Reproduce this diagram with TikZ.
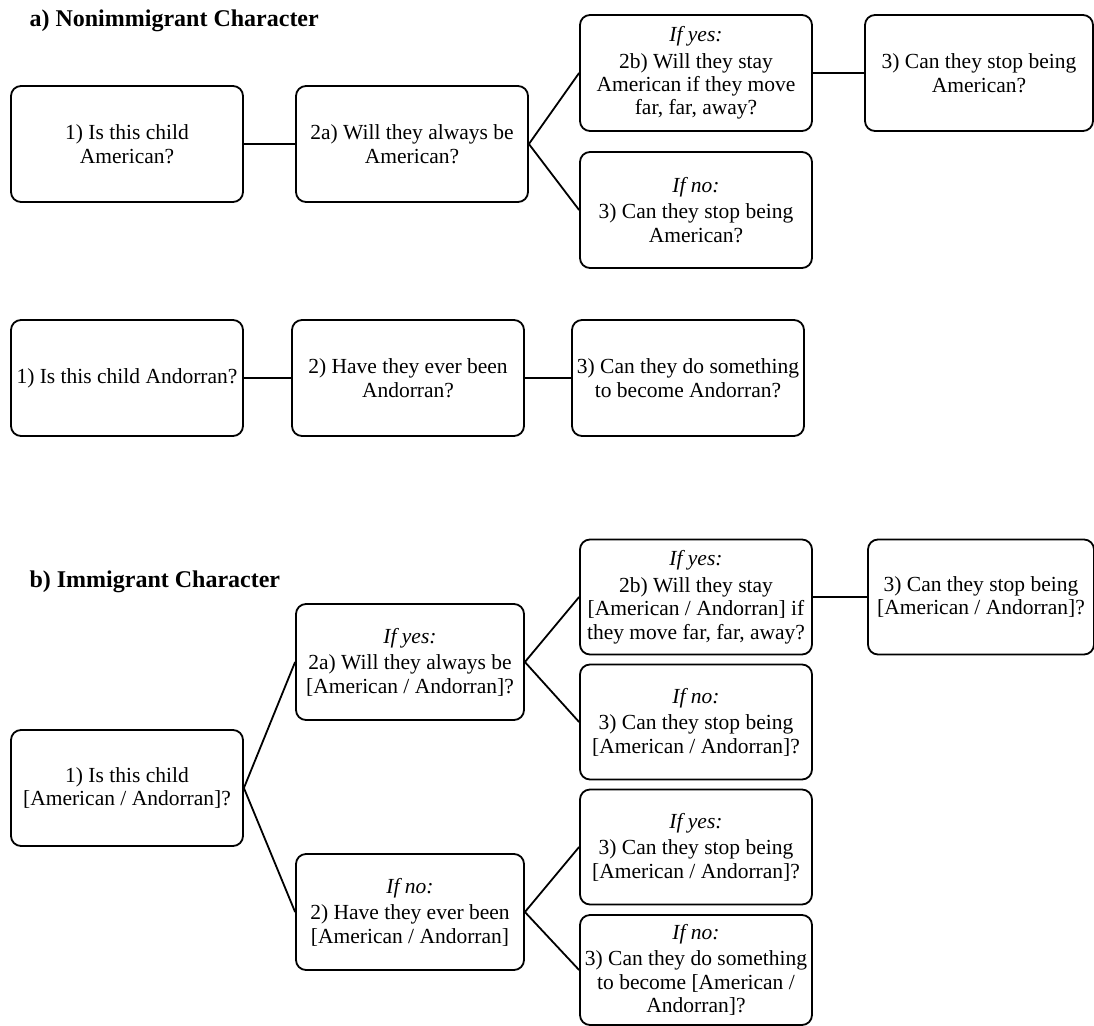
\documentclass[tikz,border=0pt]{standalone}
\usepackage{fontspec}
\setmainfont{Liberation Serif}
\usepackage{tikz}
\usetikzlibrary{positioning}

\begin{document}
\begin{tikzpicture}[x=1pt, y=-1pt,
  qbox/.style={draw, line width=1.8pt, rounded corners=10pt, minimum width=232pt,
    minimum height=116pt, align=center, inner sep=2pt, font=\fontsize{21.5}{23.5}\selectfont},
  link/.style={line width=1.8pt},
  heading/.style={anchor=base west, font=\fontsize{24}{28}\selectfont\bfseries}]
\useasboundingbox (0,0) rectangle (1094,1025);

% a) Nonimmigrant character
\node[heading] (ta) at (26,27) {a) Nonimmigrant Character};
\node[qbox] (a1) at (127,144) {1) Is this child\\American?};
\node[qbox] (a2) at (412,144) {2a) Will they always be\\American?};
\node[qbox] (a2y) at (696,73) {\textit{If yes:}\\[3pt]2b) Will they stay\\American if they move\\far, far, away?};
\node[qbox] (a2n) at (696,210) {\textit{If no:}\\[3pt]3) Can they stop being\\American?};
\node[qbox, minimum width=228pt] (a3) at (979,73) {3) Can they stop being\\American?};
\draw[link] (a1) -- (a2);
\draw[link] (a2.east) -- (a2y.west);
\draw[link] (a2.east) -- (a2n.west);
\draw[link] (a2y) -- (a3);

% Andorran row
\node[qbox] (d1) at (127,378) {1) Is this child Andorran?};
\node[qbox] (d2) at (408,378) {2) Have they ever been\\Andorran?};
\node[qbox] (d3) at (688,378) {3) Can they do something\\to become Andorran?};
\draw[link] (d1) -- (d2);
\draw[link] (d2) -- (d3);

% b) Immigrant character
\node[heading] (tb) at (26,587) {b) Immigrant Character};
\node[qbox] (b1) at (127,788) {1) Is this child\\{[American / Andorran]?}};
\node[qbox, minimum width=228pt] (b2y) at (410,662) {\textit{If yes:}\\[3pt]2a) Will they always be\\{[American / Andorran]?}};
\node[qbox, minimum width=228pt] (b2n) at (410,912) {\textit{If no:}\\[3pt]2) Have they ever been\\{[American / Andorran]}};
\node[qbox, minimum height=115pt] (b2yy) at (696,597) {\textit{If yes:}\\[3pt]2b) Will they stay\\{[American / Andorran]} if\\they move far, far, away?};
\node[qbox, minimum width=226pt, minimum height=115pt] (b3) at (981,597) {3) Can they stop being\\{[American / Andorran]?}};
\node[qbox, minimum height=115pt] (b2yn) at (696,722) {\textit{If no:}\\[3pt]3) Can they stop being\\{[American / Andorran]?}};
\node[qbox, minimum height=115pt] (b2ny) at (696,847) {\textit{If yes:}\\[3pt]3) Can they stop being\\{[American / Andorran]?}};
\node[qbox, minimum height=110pt] (b2nn) at (696,970) {\textit{If no:}\\[3pt]3) Can they do something\\to become [American /\\Andorran]?};
\draw[link] (b1.east) -- (b2y.west);
\draw[link] (b1.east) -- (b2n.west);
\draw[link] (b2y.east) -- (b2yy.west);
\draw[link] (b2y.east) -- (b2yn.west);
\draw[link] (b2yy) -- (b3);
\draw[link] (b2n.east) -- (b2ny.west);
\draw[link] (b2n.east) -- (b2nn.west);
\end{tikzpicture}
\end{document}
